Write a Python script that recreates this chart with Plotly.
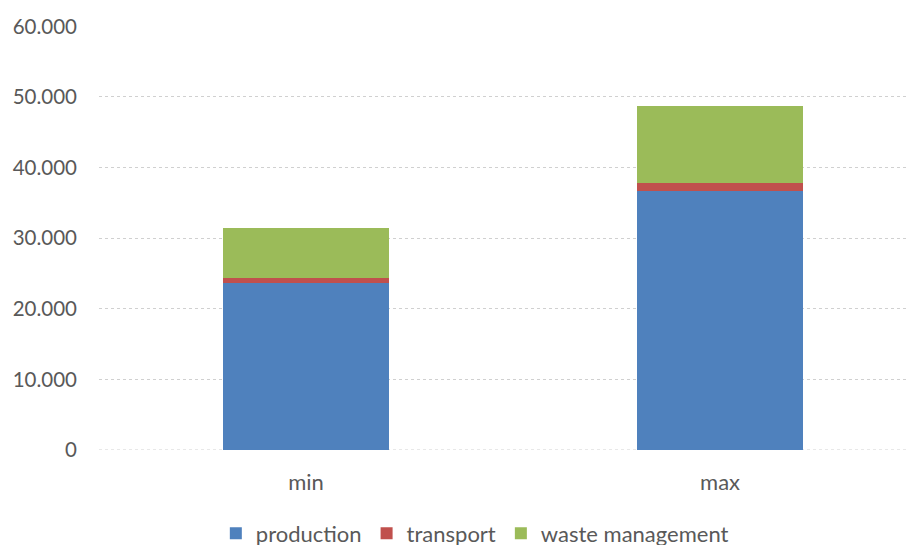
import plotly.graph_objects as go

categories = ["min", "max"]
production = [23670, 36690]
transport = [710, 1140]
waste_management = [7130, 10890]

series = [
    ("production", production, "#4f81bd"),
    ("transport", transport, "#c0504d"),
    ("waste management", waste_management, "#9bbb59"),
]

fig = go.Figure()
for name, vals, color in series:
    fig.add_trace(go.Bar(
        x=categories, y=vals, name=name,
        marker=dict(color=color, line=dict(width=0)),
        width=0.4,
    ))

fig.update_layout(
    barmode="stack",
    width=917, height=545,
    margin=dict(l=91, r=0, t=18, b=103, autoexpand=False),
    paper_bgcolor="white", plot_bgcolor="white",
    separators=",.",
    font=dict(family="Lato, Carlito, Calibri, sans-serif", size=21, color="#595959"),
    showlegend=True,
    legend=dict(orientation="h", x=0.455, xanchor="center", y=-0.147, yanchor="top",
                font=dict(size=22, color="#595959"), traceorder="normal",
                tracegroupgap=0),
    xaxis=dict(range=[-0.5, 1.495], showgrid=False, showline=False, ticks="",
               automargin=False, ticklabelstandoff=17,
               tickfont=dict(size=22, color="#595959")),
    yaxis=dict(range=[0, 60050], dtick=10000, tickformat=",d",
               showgrid=True, gridcolor="#d0d0d0", griddash="dot", gridwidth=1,
               zeroline=False, showline=False, ticks="", ticklen=0,
               automargin=False, ticklabelstandoff=21,
               tickfont=dict(size=20.5, color="#595959")),
)
fig.add_shape(type="line", xref="paper", yref="y", x0=0, x1=1, y0=0, y1=0,
              line=dict(color="#d0d0d0", width=1, dash="dot"), layer="below")

fig.write_html("out.html")
